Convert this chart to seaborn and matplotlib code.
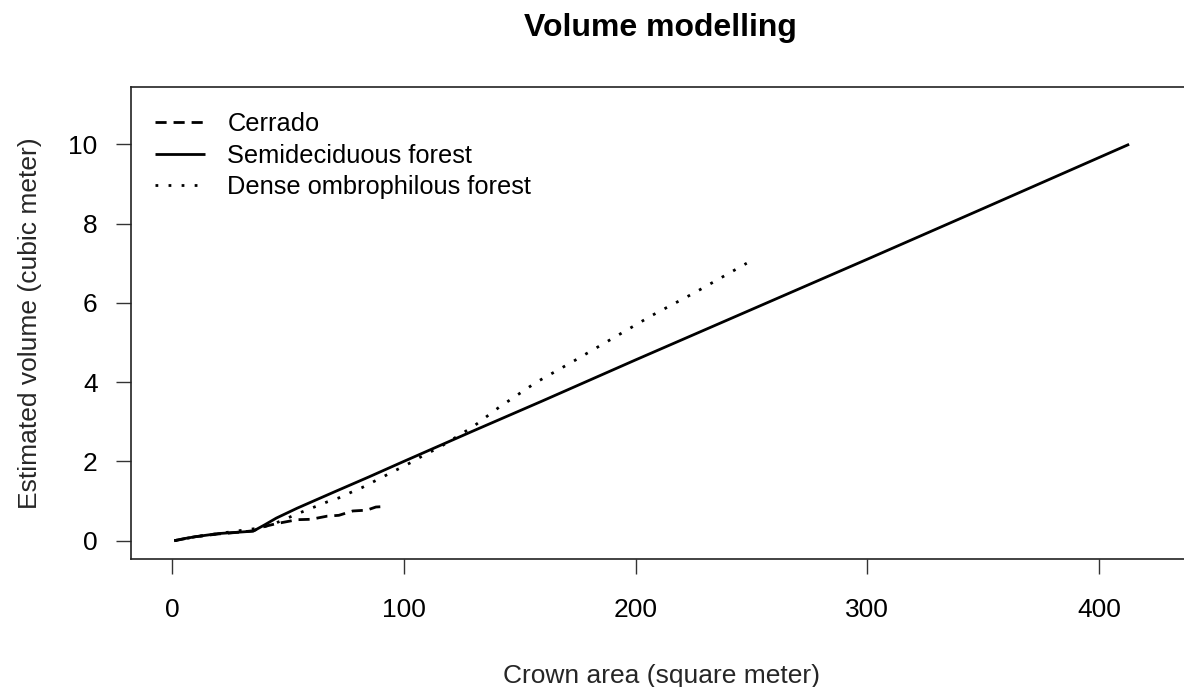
import numpy as np
import pandas as pd
import matplotlib
matplotlib.use("Agg")
import matplotlib.pyplot as plt
import seaborn as sns

# Fitted volume curves per vegetation type (crown area in m², volume in m³)
cerrado_area = [1, 10, 20, 30, 35, 40, 45, 54, 60, 67, 72, 78, 84, 88, 91]
cerrado_vol = [0.0, 0.1, 0.17, 0.22, 0.25, 0.36, 0.43, 0.53, 0.54, 0.62, 0.64, 0.75, 0.77, 0.85, 0.86]

semidec_area = [1, 5, 10, 15, 20, 25, 30, 35, 40, 45, 54, 70, 85, 100, 130, 160, 200, 250, 300, 350, 413]
semidec_vol = [0.0, 0.05, 0.1, 0.14, 0.18, 0.2, 0.22, 0.24, 0.4, 0.57, 0.82, 1.23, 1.61, 2.0,
               2.77, 3.53, 4.56, 5.83, 7.1, 8.38, 10.0]

dense_area = [1, 10, 20, 30, 38, 45, 55, 67, 72, 78, 82, 87, 104, 109, 115, 130, 141, 157, 173,
              190, 207, 225, 248]
dense_vol = [0.0, 0.1, 0.18, 0.26, 0.32, 0.45, 0.7, 0.98, 1.08, 1.24, 1.34, 1.49, 2.0, 2.17, 2.34,
             2.88, 3.36, 3.99, 4.52, 5.1, 5.68, 6.24, 7.0]

series_names = ["Cerrado", "Semideciduous forest", "Dense ombrophilous forest"]
x_ticks = [0, 100, 200, 300, 400]
y_ticks = [0, 2, 4, 6, 8, 10]

sns.set_style("ticks")
plt.rcParams["font.family"] = ["Liberation Sans", "DejaVu Sans"]
plt.rcParams["text.color"] = "black"

W, H = 1184, 687
fig = plt.figure(figsize=(W / 100, H / 100), dpi=100)
left, right, top, bottom = 131, 1192, 87, 559
ax = fig.add_axes([left / W, (H - bottom) / H, (right - left) / W, (bottom - top) / H])

styles = [
    (cerrado_area, cerrado_vol, (0, (4, 2.5))),
    (semidec_area, semidec_vol, "-"),
    (dense_area, dense_vol, (0, (1, 3.7))),
]
for (xs, ys, ls), name in zip(styles, series_names):
    df = pd.DataFrame({"area": xs, "volume": ys})
    sns.lineplot(data=df, x="area", y="volume", ax=ax, color="black", linewidth=2.0,
                 linestyle=ls, label=name, solid_capstyle="butt", dash_capstyle="butt")

# axis ranges from the pixel frame
px_per_x = (1099 - 172) / 400.0
px_per_y = (540.7 - 144.3) / 10.0
ax.set_xlim((left - 172) / px_per_x, (right - 172) / px_per_x)
ax.set_ylim((540.7 - bottom) / px_per_y, (540.7 - top) / px_per_y)

ax.set_xticks(x_ticks)
ax.set_yticks(y_ticks)
ax.set_xticklabels([str(v) for v in x_ticks])
ax.set_yticklabels([str(v) for v in y_ticks])
ax.tick_params(axis="both", direction="out", length=11, width=1.0, color="#333333",
               labelsize=19, labelcolor="black")
ax.tick_params(axis="x", pad=17)
ax.tick_params(axis="y", pad=13)

for side in ["left", "bottom", "top", "right"]:
    ax.spines[side].set_visible(True)
    ax.spines[side].set_linewidth(1.2)
    ax.spines[side].set_color("#222222")

ax.set_xlabel("Crown area (square meter)", fontsize=19, labelpad=30)
ax.set_ylabel("Estimated volume (cubic meter)", fontsize=19, labelpad=19)
fig.text(660 / W, 1 - 28 / H, "Volume modelling", ha="center", va="center",
         fontsize=23, fontweight="bold")

leg = ax.legend(loc="upper left", bbox_to_anchor=(155 / W, 1 - 112 / H),
                bbox_transform=fig.transFigure, frameon=False, fontsize=18.3,
                handlelength=1.95, handletextpad=0.9, labelspacing=0.3,
                borderpad=0, borderaxespad=0)

fig.savefig("out.png", dpi=100)
